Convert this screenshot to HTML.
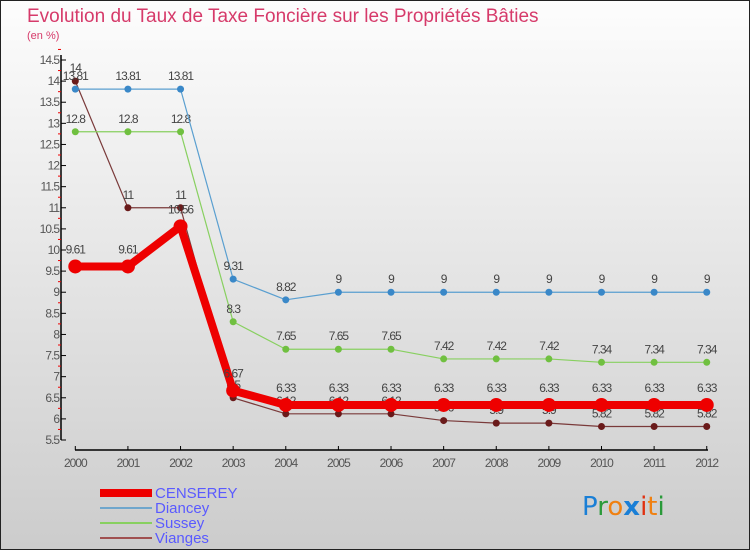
<!DOCTYPE html>
<html><head><meta charset="utf-8"><style>
body{margin:0;width:750px;height:550px;overflow:hidden;font-family:"Liberation Sans",sans-serif}
</style></head><body>
<svg id="c" width="750" height="550" xmlns="http://www.w3.org/2000/svg">
<defs><linearGradient id="bg" x1="0" y1="0" x2="0" y2="1"><stop offset="0" stop-color="#fdfdfd"/><stop offset="1" stop-color="#cccccc"/></linearGradient></defs>
<rect x="0.5" y="0.5" width="749" height="549" fill="url(#bg)" stroke="#222"/>
<text x="27" y="22" font-size="19" fill="#d63a6a">Evolution du Taux de Taxe Foncière sur les Propriétés Bâties</text>
<text x="27" y="39" font-size="11" fill="#d63a6a">(en %)</text>
<g id="axes"></g><g id="series"></g>
<g font-size="15" fill="#5a5aff">
<rect x="100" y="489" width="52" height="8" fill="#e00"/>
<text x="155" y="498">CENSEREY</text>
<rect x="100" y="507" width="52" height="2" fill="#6fa6cc"/>
<text x="155" y="513">Diancey</text>
<rect x="100" y="522" width="52" height="2" fill="#88d060"/>
<text x="155" y="528">Sussey</text>
<rect x="100" y="537" width="52" height="2" fill="#a05050"/>
<text x="155" y="543">Vianges</text>
</g>
<g font-size="26" font-family="DejaVu Sans, sans-serif">
<text x="582" y="515"><tspan fill="#1a7fd6">P</tspan><tspan fill="#2a9a3a">r</tspan><tspan fill="#f08010">o</tspan><tspan fill="#1a7fd6" font-weight="bold">x</tspan><tspan fill="#e03010">i</tspan><tspan fill="#f08010">t</tspan><tspan fill="#2a9a3a">i</tspan></text>
</g>
</svg>
<script>
const years=[2000,2001,2002,2003,2004,2005,2006,2007,2008,2009,2010,2011,2012];
const yTicks=[5.5,6,6.5,7,7.5,8,8.5,9,9.5,10,10.5,11,11.5,12,12.5,13,13.5,14,14.5];
const censerey=[9.61,9.61,10.56,6.67,6.33,6.33,6.33,6.33,6.33,6.33,6.33,6.33,6.33];
const diancey=[13.81,13.81,13.81,9.31,8.82,9,9,9,9,9,9,9,9];
const sussey=[12.8,12.8,12.8,8.3,7.65,7.65,7.65,7.42,7.42,7.42,7.34,7.34,7.34];
const vianges=[14,11,11,6.5,6.12,6.12,6.12,5.96,5.9,5.9,5.82,5.82,5.82];
const NS="http://www.w3.org/2000/svg";
const X=i=>75.3+i*52.62;
const Y=v=>440-(v-5.5)*(380/9);
function mk(t,a,p){const e=document.createElementNS(NS,t);for(const k in a)e.setAttribute(k,a[k]);p.appendChild(e);return e;}
const ax=document.getElementById('axes');
let l=mk('line',{x1:61,y1:55,x2:61,y2:440,stroke:'#000','stroke-width':1.5},ax);


l=mk('line',{x1:75,y1:450,x2:708,y2:450,stroke:'#000','stroke-width':1.5},ax);


yTicks.forEach(v=>{
 mk('line',{x1:61,y1:Y(v),x2:66,y2:Y(v),stroke:'#000'},ax);
 mk('line',{x1:58,y1:Y(v+0.25),x2:61,y2:Y(v+0.25),stroke:'#e00'},ax);
 const t=mk('text',{x:59,y:Y(v)+4,'text-anchor':'end','font-size':12,fill:'#555','letter-spacing':'-1'},ax);
 t.textContent=String(v);
 
 
});
years.forEach((y,i)=>{
 mk('line',{x1:X(i),y1:446,x2:X(i),y2:450,stroke:'#000'},ax);
 const t=mk('text',{x:X(i),y:467,'text-anchor':'middle','font-size':12,fill:'#555','letter-spacing':'-1'},ax);
 t.textContent=y;
 
 
});
const sg=document.getElementById('series');
function draw(name,vals,col,dot,w,r,dy){
 const g=mk('g',{},sg);
 
 
 const p=mk('polyline',{points:vals.map((v,i)=>X(i)+','+Y(v)).join(' '),fill:'none',stroke:col,'stroke-width':w,'stroke-linejoin':'round'},g);
 
 
 vals.forEach((v,i)=>{
  const c=mk('circle',{cx:X(i),cy:Y(v),r:r,fill:dot},g);
  
  
  const t=mk('text',{x:X(i),y:Y(v)-dy,'text-anchor':'middle','font-size':12,fill:'#444','letter-spacing':'-1'},g);
  t.textContent=String(v);
  
  
 });
}
draw('vianges',vianges,'#7a3a3a','#6a1a1a',1.2,3.5,9);
draw('sussey',sussey,'#88d060','#70c040',1.2,3.5,9);
draw('diancey',diancey,'#5a9fd0','#3a88c8',1.2,3.5,9);
draw('censerey',censerey,'#e00','#e00',8,7,13);
</script>
</body></html>
